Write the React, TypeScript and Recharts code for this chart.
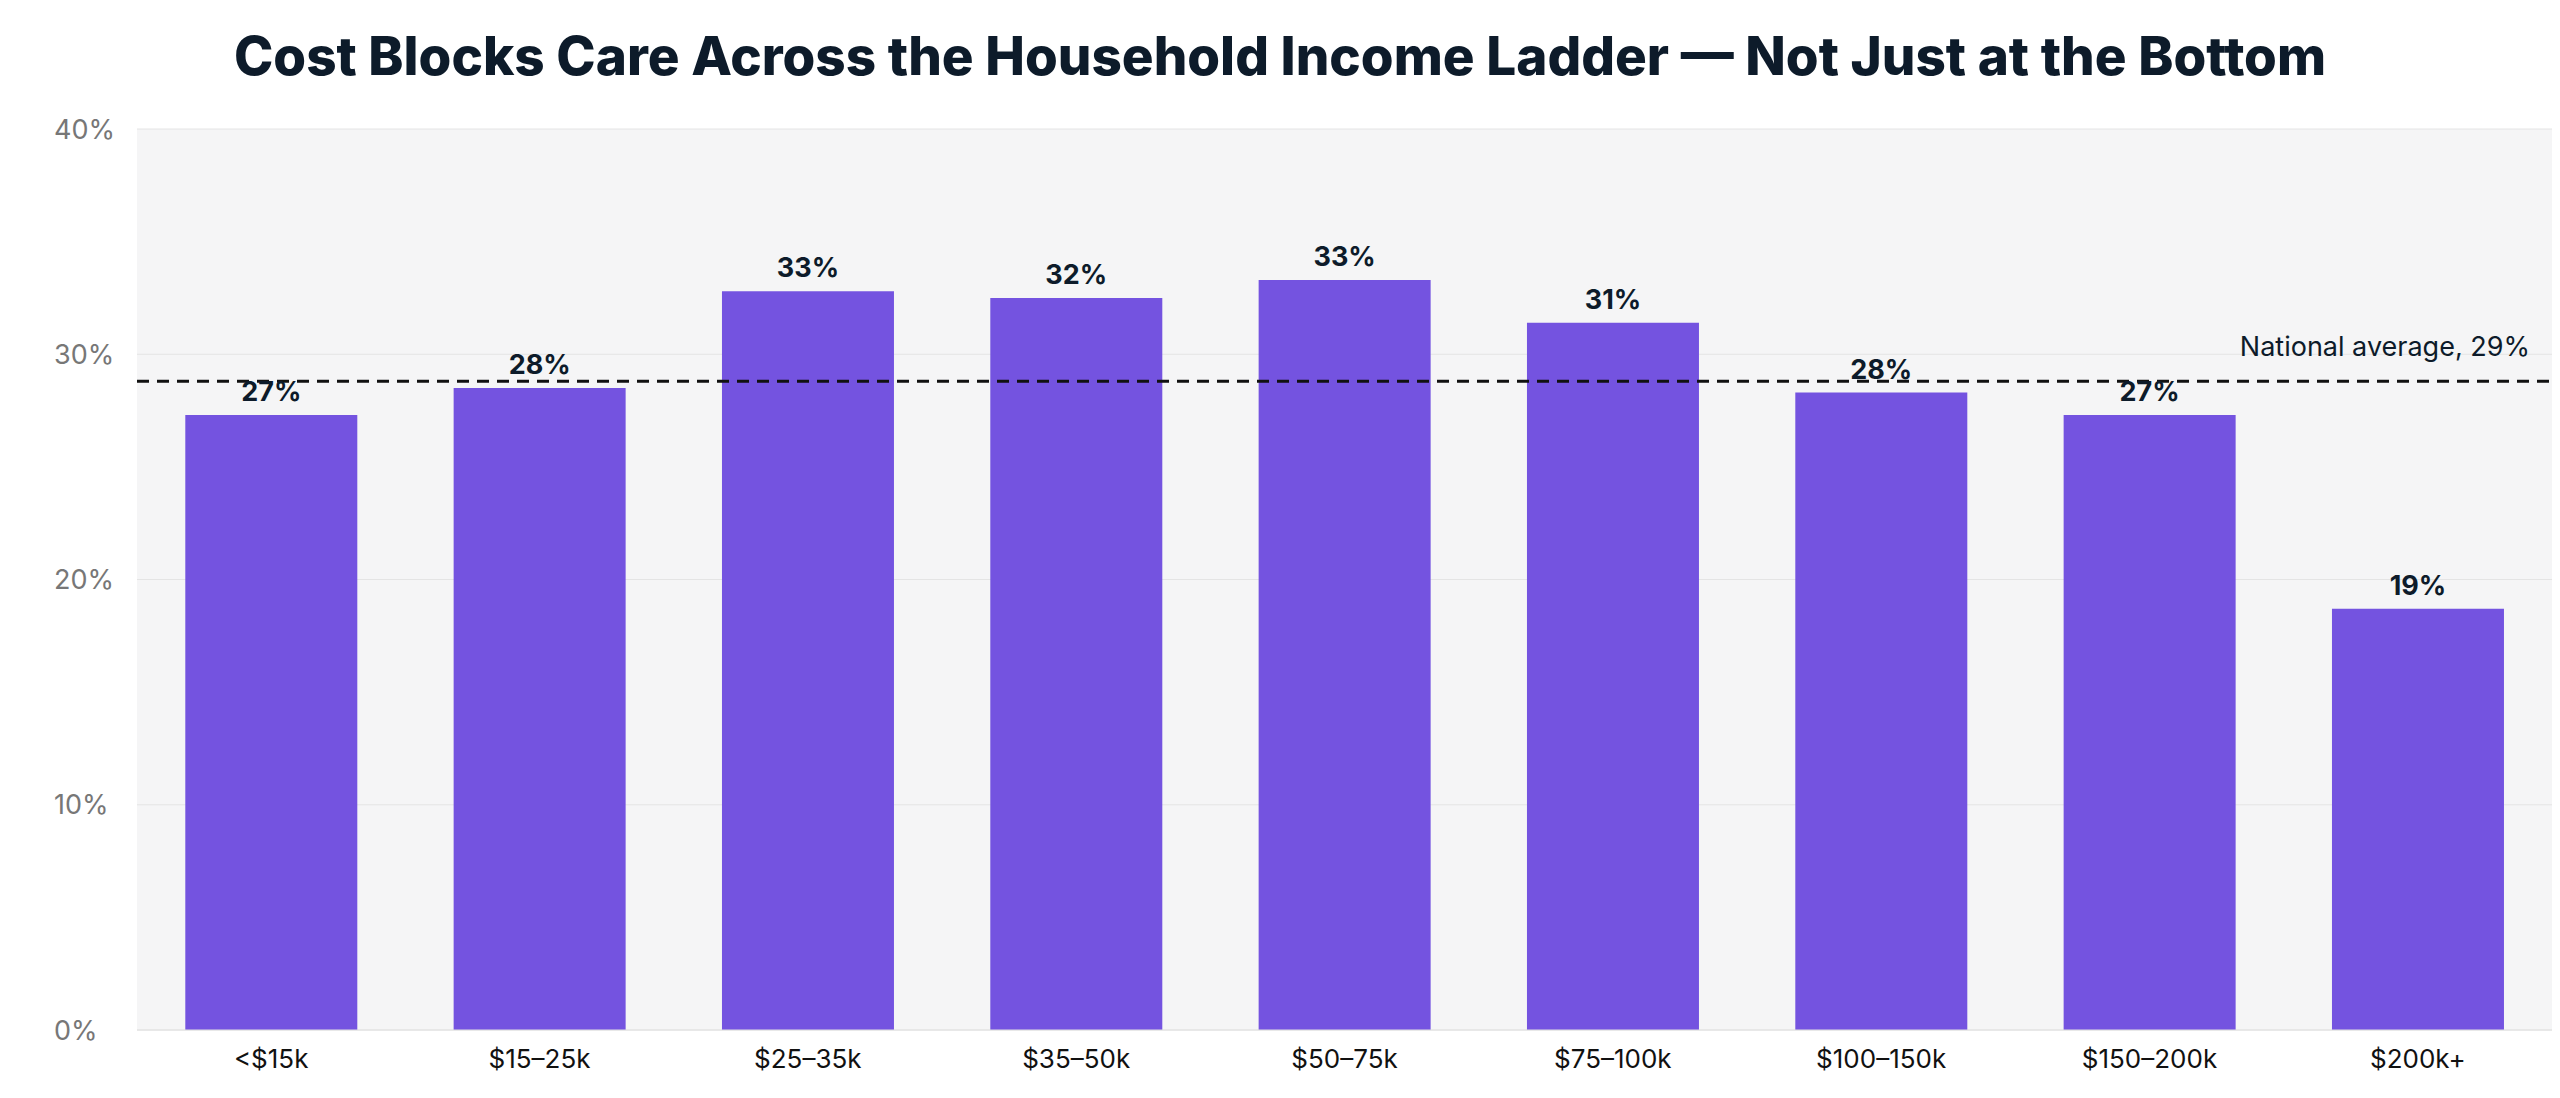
import React from "react";
import {
  BarChart,
  Bar,
  CartesianGrid,
  XAxis,
  YAxis,
  ReferenceLine,
  LabelList,
} from "recharts";

const categories = ["<$15k", "$15–25k", "$25–35k", "$35–50k", "$50–75k", "$75–100k", "$100–150k", "$150–200k", "$200k+"];
const shares = [27.3, 28.5, 32.8, 32.5, 33.3, 31.4, 28.3, 27.3, 18.7];
const labels = ["27%", "28%", "33%", "32%", "33%", "31%", "28%", "27%", "19%"];
const yTicks = [0, 10, 20, 30, 40];
const nationalAverage = 28.8;

const data = categories.map((name, i) => ({ name, value: shares[i], label: labels[i] }));

const font = "Inter, 'Noto Sans', sans-serif";

export default function App() {
  return (
    <div style={{ position: "relative", width: 2544, height: 1082, fontFamily: font, background: "#fff" }}>
      <div
        style={{
          position: "absolute",
          top: 16,
          left: 0,
          width: 2544,
          textAlign: "center",
          fontSize: 53,
          fontWeight: 800,
          color: "#0d1b2a",
        }}
      >
        Cost Blocks Care Across the Household Income Ladder — Not Just at the Bottom
      </div>
      <BarChart
        width={2544}
        height={1082}
        data={data}
        margin={{ top: 121, right: 0, left: 39, bottom: 10 }}
        barCategoryGap="18%"
      >
        <CartesianGrid vertical={false} stroke="#e4e4e4" fill="#f5f5f6" />
        <XAxis
          dataKey="name"
          height={50}
          tickLine={false}
          axisLine={{ stroke: "#e0e0e0" }}
          tick={{ fill: "#111", fontSize: 26, fontFamily: font }}
          tickMargin={14}
        />
        <YAxis
          width={90}
          domain={[0, 40]}
          ticks={yTicks}
          tickFormatter={(v) => `${v}%`}
          tickLine={false}
          axisLine={false}
          tick={{ fill: "#777", fontSize: 27, fontFamily: font, textAnchor: "start", dx: -75 }}
        />
        <Bar dataKey="value" fill="#7453e0" isAnimationActive={false}>
          <LabelList
            dataKey="label"
            position="top"
            offset={14}
            style={{ fill: "#0d1b2a", fontSize: 27, fontWeight: 700, fontFamily: font }}
          />
        </Bar>
        <ReferenceLine
          y={nationalAverage}
          stroke="#111"
          strokeWidth={3}
          strokeDasharray="12 8"
          label={{
            value: "National average, 29%",
            position: "insideTopRight",
            offset: 14,
            dx: -8,
            dy: -58,
            fill: "#0d1b2a",
            fontSize: 27,
            fontFamily: font,
          }}
        />
      </BarChart>
    </div>
  );
}
